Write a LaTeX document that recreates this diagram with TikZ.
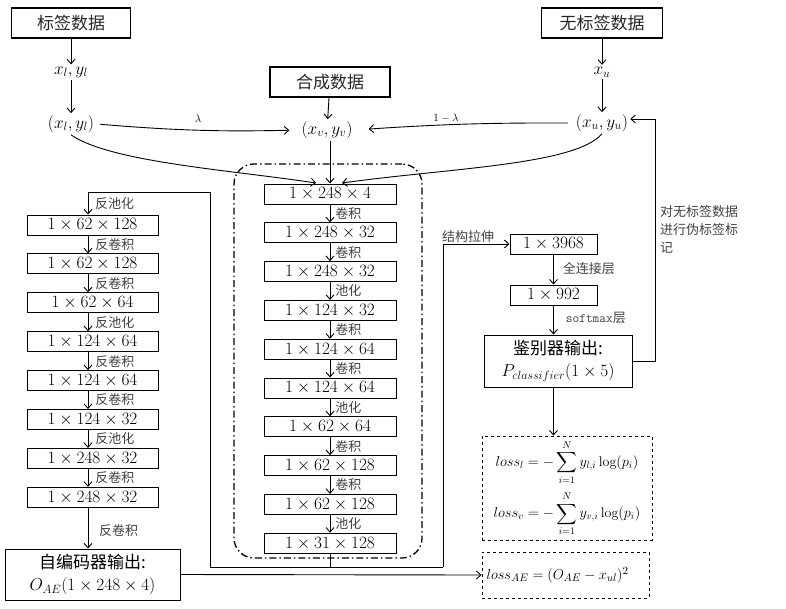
\documentclass[tikz,border=0pt]{standalone}
\usepackage{fontspec}
\usepackage{amsmath}
\usetikzlibrary{arrows.meta}
\newfontfamily\cjk{Noto Sans CJK SC}
\begin{document}
\begin{tikzpicture}[x=1pt,y=-1pt,
  arr/.style={-{Straight Barb[length=4.5pt,width=8pt]},line width=0.9pt},
  ln/.style={line width=0.9pt},
  tbox/.style={draw,line width=1.5pt,minimum height=30pt,inner sep=0pt,text=black!85,font=\cjk\fontsize{17}{17}\selectfont},
  box/.style={draw,line width=1pt,minimum width=132pt,minimum height=20pt,inner sep=0pt,font=\fontsize{17}{17}\selectfont},
  lbox/.style={box,minimum width=131pt},
  mth/.style={inner sep=2pt,font=\fontsize{18}{18}\selectfont},
  lbl/.style={font=\cjk\fontsize{13}{13}\selectfont,text=black!75,inner sep=1pt,anchor=west},
  sml/.style={font=\fontsize{11}{11}\selectfont,inner sep=1pt},
  bigbox/.style={draw,line width=1pt,inner sep=0pt,align=center,font=\fontsize{17}{22}\selectfont},
  lossbox/.style={draw,dashed,line width=0.9pt,inner sep=0pt,align=center,font=\fontsize{14}{14}\selectfont}
]
\useasboundingbox (0,0) rectangle (786,608);

% top inputs
\node[tbox,minimum width=119pt] (lab) at (71,23) {标签数据};
\node[mth] (xl) at (71,72) {$x_l,y_l$};
\node[mth] (pl) at (71,124) {$(x_l,y_l)$};
\node[tbox,minimum width=120pt] (syn) at (330,82) {合成数据};
\node[mth] (pv) at (327,130) {$(x_v,y_v)$};
\node[tbox,minimum width=121pt] (unl) at (602,23) {无标签数据};
\node[mth] (xu) at (602,72) {$x_u$};
\node[mth] (pu) at (602,123) {$(x_u,y_u)$};

\draw[arr] (lab) -- (xl);
\draw[arr] (xl) -- (pl);
\draw[arr] (syn) -- (pv);
\draw[arr] (unl) -- (xu);
\draw[arr] (xu) -- (pu);

\draw[arr,shorten <=4pt,shorten >=10pt] (pl.east) to[bend right=3] (pv.west);
\node[sml] (lam) at (198,119) {$\lambda$};
\draw[arr,shorten <=6pt,shorten >=14pt] (pu.west) to[bend right=2] (pv.east);
\node[sml] (lam2) at (446,118) {$1-\lambda$};

% encoder column
\foreach \i/\t in {1/{1\times248\times4},2/{1\times248\times32},3/{1\times248\times32},4/{1\times124\times32},5/{1\times124\times64},6/{1\times124\times64},7/{1\times62\times64},8/{1\times62\times128},9/{1\times62\times128},10/{1\times31\times128}}{
  \node[box] (c\i) at (330,{194+38.8*(\i-1)}) {$\t$};
}
\foreach \i/\j/\t in {1/2/卷积,2/3/卷积,3/4/池化,4/5/卷积,5/6/卷积,6/7/池化,7/8/卷积,8/9/卷积,9/10/池化}{
  \draw[arr] (c\i) -- (c\j) node[midway,lbl,xshift=4pt] (cl\i) {\t};
}
\node[draw,dash pattern=on 7pt off 3pt on 1.5pt off 3pt,line width=1.3pt,rounded corners=20pt,minimum width=188pt,minimum height=394pt,inner sep=0pt] (enc) at (328,361) {};

\coordinate (ca) at (316,183);
\coordinate (cb) at (342,183);
\draw[arr] (pl.south) .. controls (110,162) and (230,170) .. (ca);
\draw[arr] (pv.south -| c1.north) -- (c1.north);
\draw[arr] (pu.south) .. controls (575,165) and (450,168) .. (cb);

% decoder column
\coordinate (ax) at (88,0);
\foreach \i/\t in {1/{1\times62\times128},2/{1\times62\times128},3/{1\times62\times64},4/{1\times124\times64},5/{1\times124\times64},6/{1\times124\times32},7/{1\times248\times32},8/{1\times248\times32}}{
  \node[lbox] (d\i) at (92.5,{225+38.9*(\i-1)}) {$\t$};
}
\foreach \i/\j/\t in {1/2/反卷积,2/3/反卷积,3/4/反池化,4/5/反卷积,5/6/反卷积,6/7/反池化,7/8/反卷积}{
  \draw[arr] (d\i.south -| ax) -- (d\j.north -| ax) node[midway,lbl,xshift=6pt] (dl\i) {\t};
}
\node[bigbox,minimum width=175pt,minimum height=51pt] (ae) at (92.5,574.5) {\cjk 自编码器输出:\\$O_{AE}(1\times248\times4)$};
\draw[arr] (d8.south -| ax) -- (ae.north -| ax);
\node[lbl] (dl8) at (98,531) {反卷积};

% junction from encoder output
\coordinate (j) at (330,567);
\coordinate (jl) at (210,567);
\coordinate (jr) at (443,567);
\coordinate (tl) at (210,192);
\draw[ln] (c10.south) -- (j);
\draw[arr] (jr) -- (jl) -- (tl) -- (tl -| ax) -- (d1.north -| ax);
\node[lbl] (dl0) at (94,204) {反池化};

% classifier branch
\node[box,minimum width=87pt] (k1) at (553.5,244) {$1\times3968$};
\node[box,minimum width=87pt] (k2) at (553.5,295) {$1\times992$};
\node[bigbox,minimum width=148pt,minimum height=52pt] (disc) at (558,361) {\cjk 鉴别器输出:\\$P_{classifier}(1\times5)$};
\draw[arr] (jr) |- (k1.west);
\node[lbl,anchor=south west] (st) at (441,244) {结构拉伸};
\draw[arr] (k1) -- (k2) node[midway,lbl,xshift=8pt,yshift=1pt] (kl1) {全连接层};
\draw[arr] (k2.south) -- (k2.south |- disc.north) node[midway,lbl,xshift=11pt,yshift=2pt] (kl2) {\texttt{softmax}层};

\coordinate (fb) at (655,119);
\draw[arr] (disc.east) -| (fb) -- (pu.east |- fb);
\node[lbl,anchor=north west,align=left,font=\cjk\fontsize{13}{18}\selectfont] (fbl) at (659,204) {对无标签数据\\进行伪标签标\\记};

% losses
\node[lossbox,minimum width=170pt,minimum height=104pt] (loss) at (567,488) {$\displaystyle loss_l=-\sum_{i=1}^{N}y_{l,i}\log(p_i)$\\[6pt]$\displaystyle loss_v=-\sum_{i=1}^{N}y_{v,i}\log(p_i)$};
\draw[arr] (k2.south |- disc.south) -- (k2.south |- loss.north);
\node[lossbox,minimum width=167pt,minimum height=46pt,font=\fontsize{15}{15}\selectfont] (lae) at (565.5,575) {$loss_{AE}=(O_{AE}-x_{ul})^2$\hspace{16pt}};
\draw[arr] (ae.east) -- (lae.west);
\end{tikzpicture}
\end{document}
